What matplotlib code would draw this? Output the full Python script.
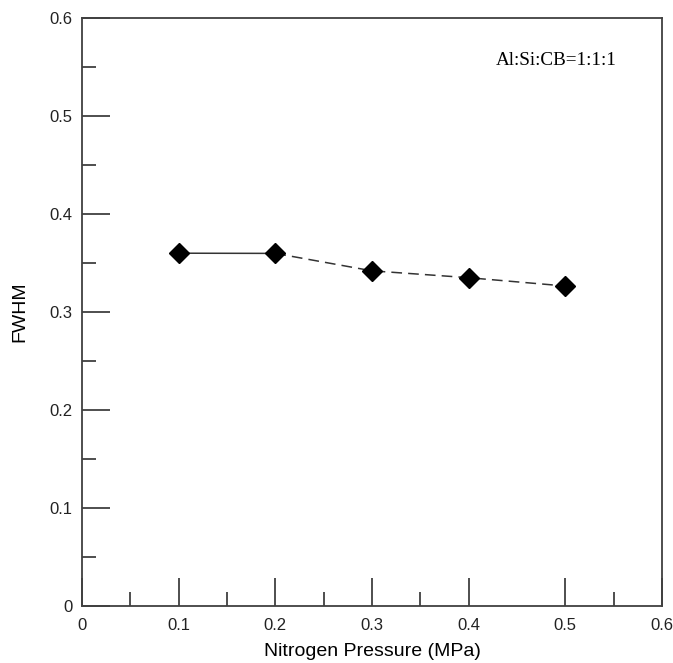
import matplotlib.pyplot as plt
from matplotlib.ticker import FixedLocator

# data
pressure = [0.1, 0.2, 0.3, 0.4, 0.5]
fwhm = [0.360, 0.3598, 0.342, 0.335, 0.3265]

x_major = [0, 0.1, 0.2, 0.3, 0.4, 0.5, 0.6]
x_minor = [0.05, 0.15, 0.25, 0.35, 0.55]
y_major = [0, 0.1, 0.2, 0.3, 0.4, 0.5, 0.6]
y_minor = [0.05, 0.15, 0.25, 0.35, 0.45, 0.55]
tick_text = ['0', '0.1', '0.2', '0.3', '0.4', '0.5', '0.6']

fig = plt.figure(figsize=(6.73, 6.63), dpi=100)
ax = fig.add_axes([82/673, 1 - 606/663, 580/673, 588/663])

axcol = '#404040'
# first segment solid, rest dashed
ax.plot(pressure[:2], fwhm[:2], '-', color='#333333', lw=1.1)
ax.plot(pressure[1:], fwhm[1:], '--', color='#333333', lw=1.1, dashes=(7, 4))
ax.plot(pressure, fwhm, 'D', color='black', ms=10, zorder=3)

ax.set_xlim(0, 0.6)
ax.set_ylim(0, 0.6)
ax.xaxis.set_major_locator(FixedLocator(x_major))
ax.xaxis.set_minor_locator(FixedLocator(x_minor))
ax.yaxis.set_major_locator(FixedLocator(y_major))
ax.yaxis.set_minor_locator(FixedLocator(y_minor))
ax.set_xticklabels(tick_text)
ax.set_yticklabels(tick_text)

ax.tick_params(which='both', direction='in', color=axcol, width=1.3,
               labelsize=12, labelcolor='#222222', top=False, right=False)
ax.tick_params(which='major', length=20)
ax.tick_params(axis='y', which='major', pad=7)
ax.tick_params(axis='x', which='major', pad=9)
ax.tick_params(which='minor', length=10)
for lab in ax.get_xticklabels() + ax.get_yticklabels():
    lab.set_family('Liberation Sans')
for s in ax.spines.values():
    s.set_color(axcol)
    s.set_linewidth(1.3)

ax.set_xlabel('Nitrogen Pressure (MPa)', fontsize=14, family='Liberation Sans', labelpad=7)
ax.set_ylabel('FWHM', fontsize=14, family='Liberation Sans', labelpad=15)

ax.text(0.491, 0.557, 'Al:Si:CB=1:1:1', fontsize=13.8, family='Liberation Serif',
        ha='center', va='center')

fig.savefig('out.png', dpi=100)
